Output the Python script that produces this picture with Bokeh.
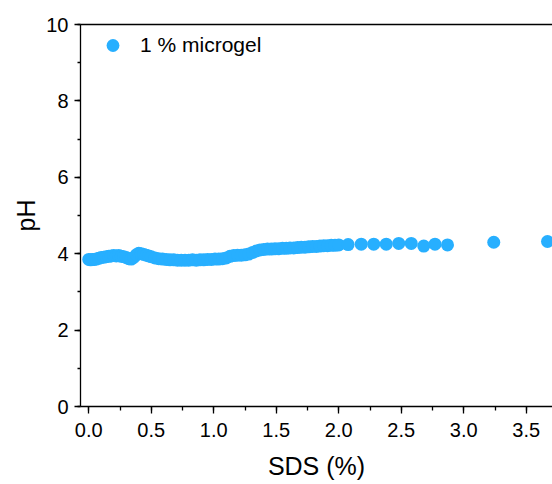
from bokeh.plotting import figure
from bokeh.models import (Range1d, SingleIntervalTicker, FixedTicker, LinearAxis, Legend,
                          LegendItem, PrintfTickFormatter)
from bokeh.embed import file_html
from bokeh.resources import INLINE

# ---- data ----
sds = [0.000, 0.015, 0.030, 0.045, 0.060, 0.080, 0.100, 0.120, 0.140, 0.160,
       0.180, 0.200, 0.220, 0.240, 0.260, 0.280, 0.300, 0.320, 0.340, 0.360,
       0.380, 0.400, 0.420, 0.440, 0.460, 0.480, 0.500, 0.530, 0.560, 0.590,
       0.620, 0.650, 0.680, 0.710, 0.740, 0.770, 0.800, 0.830, 0.860, 0.890,
       0.920, 0.950, 0.980, 1.010, 1.040, 1.070, 1.100, 1.130, 1.160, 1.190,
       1.220, 1.250, 1.280, 1.310, 1.340, 1.370, 1.400, 1.430, 1.460, 1.490,
       1.520, 1.550, 1.580, 1.610, 1.640, 1.670, 1.700, 1.730, 1.760, 1.790,
       1.820, 1.850, 1.880, 1.910, 1.940, 1.970, 2.000,
       2.075, 2.180, 2.280, 2.380, 2.480, 2.580, 2.680, 2.770, 2.870, 3.240, 3.670]
ph = [3.85, 3.84, 3.85, 3.85, 3.86, 3.88, 3.90, 3.91, 3.92, 3.93,
      3.94, 3.95, 3.94, 3.95, 3.93, 3.92, 3.90, 3.87, 3.86, 3.90,
      3.97, 4.01, 4.00, 3.98, 3.96, 3.94, 3.92, 3.89, 3.87, 3.86,
      3.85, 3.84, 3.84, 3.83, 3.83, 3.83, 3.83, 3.84, 3.83, 3.84,
      3.84, 3.85, 3.85, 3.86, 3.86, 3.87, 3.89, 3.93, 3.95, 3.96,
      3.96, 3.97, 3.99, 4.03, 4.07, 4.10, 4.11, 4.12, 4.12, 4.13,
      4.13, 4.14, 4.14, 4.15, 4.15, 4.16, 4.17, 4.17, 4.18, 4.19,
      4.19, 4.20, 4.21, 4.21, 4.22, 4.22, 4.23,
      4.24, 4.25, 4.25, 4.25, 4.27, 4.27, 4.20, 4.25, 4.23, 4.30, 4.32]
series_label = "1 % microgel"
x_title = "SDS (%)"
y_title = "pH"

COLOR = "#27AFFF"
FONT = "Liberation Sans"

p = figure(width=552, height=484,
           x_range=Range1d(-0.066, 3.71), y_range=Range1d(0, 10),
           output_backend="svg", toolbar_location=None,
           min_border_left=80, min_border_right=0,
           min_border_top=24, min_border_bottom=78)
p.grid.visible = False
p.outline_line_color = None
p.background_fill_color = "white"
p.border_fill_color = "white"

r = p.scatter(sds, ph, size=13, fill_color=COLOR, line_color=None)

for ax in (p.xaxis[0], p.yaxis[0]):
    ax.axis_line_color = "black"
    ax.axis_line_width = 1.3
    ax.major_tick_line_color = "black"
    ax.minor_tick_line_color = "black"
    ax.major_tick_line_width = 1.3
    ax.minor_tick_line_width = 1.3
    ax.major_tick_in = 0
    ax.minor_tick_in = 0
    ax.major_label_text_font = FONT
    ax.major_label_text_font_size = "20px"
    ax.major_label_text_color = "black"
    ax.axis_label_text_font = FONT
    ax.axis_label_text_font_size = "25px"
    ax.axis_label_text_font_style = "normal"
    ax.axis_label_text_color = "black"

xa = p.xaxis[0]
xa.ticker = SingleIntervalTicker(interval=0.5, num_minor_ticks=2)
xa.formatter = PrintfTickFormatter(format="%.1f")
xa.major_tick_out = 7
xa.minor_tick_out = 4
xa.major_label_standoff = 9
xa.axis_label = x_title
xa.axis_label_standoff = 12

ya = p.yaxis[0]
ya.ticker = SingleIntervalTicker(interval=2, num_minor_ticks=2)
ya.major_tick_out = 6
ya.minor_tick_out = 3
ya.major_label_standoff = 6
ya.axis_label = y_title
ya.axis_label_standoff = 3

top = LinearAxis(ticker=FixedTicker(ticks=[]),
                 axis_line_color="black", axis_line_width=1.3,
                 major_tick_line_color=None, minor_tick_line_color=None,
                 major_label_standoff=0)
p.add_layout(top, "above")

legend = Legend(items=[LegendItem(label=series_label, renderers=[r])],
                location="top_left", margin=5, padding=0, spacing=0,
                glyph_width=55, glyph_height=32, label_standoff=-6,
                label_text_font=FONT, label_text_font_size="21px",
                label_text_color="black",
                border_line_color=None, background_fill_alpha=0)
p.add_layout(legend)

open("out.html", "w").write(file_html(p, INLINE))
